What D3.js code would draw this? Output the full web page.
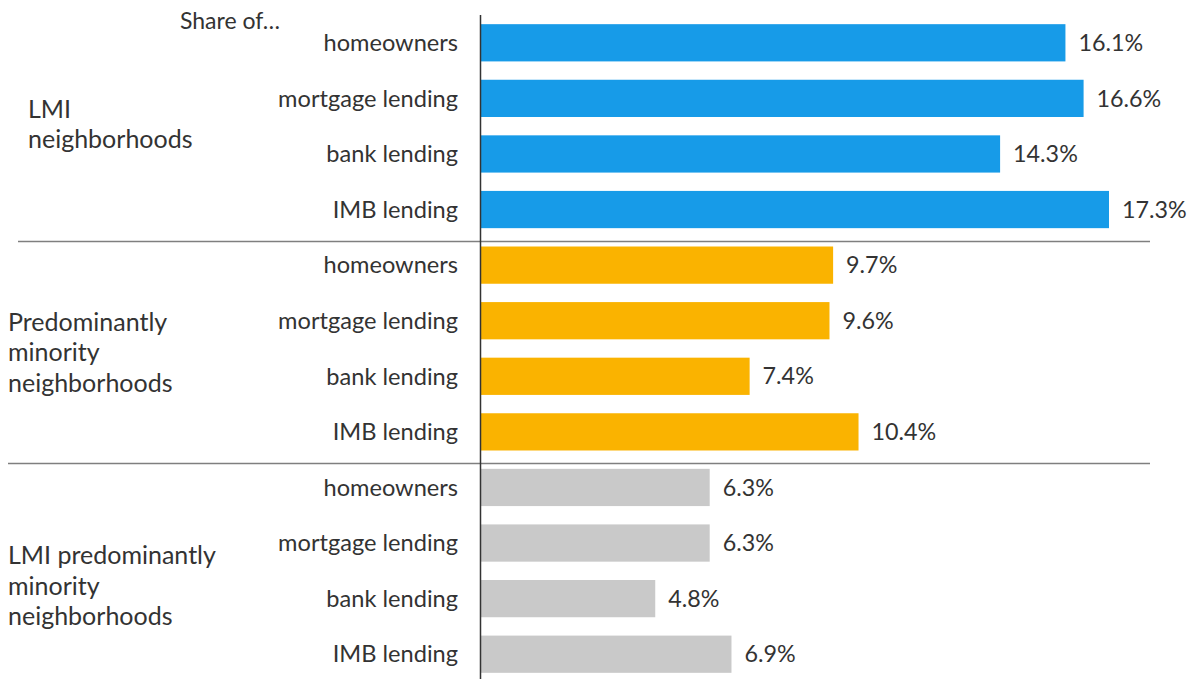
<!DOCTYPE html>
<html>
<head>
<meta charset="utf-8">
<script src="https://cdn.jsdelivr.net/npm/d3@7"></script>
<style>
  html, body { margin: 0; padding: 0; background: #fff; }
  svg text { font-family: Lato, "Noto Sans", sans-serif; fill: #333; }
</style>
</head>
<body>
<svg id="chart" width="1195" height="679"></svg>
<script>
// Rows within each neighborhood group
const measures = ["homeowners", "mortgage lending", "bank lending", "IMB lending"];
// Neighborhood groups (label lines)
const groups = [
  ["LMI", "neighborhoods"],
  ["Predominantly", "minority", "neighborhoods"],
  ["LMI predominantly", "minority", "neighborhoods"]
];
// Shares (%) for each group, in the order of `measures`
const lmiValues = [16.1, 16.6, 14.3, 17.3];
const minorityValues = [9.7, 9.6, 7.4, 10.4];
const lmiMinorityValues = [6.3, 6.3, 4.8, 6.9];
const groupColors = ["#179be8", "#fab300", "#c9c9c9"];

const seriesValues = [lmiValues, minorityValues, lmiMinorityValues];
const rows = [];
seriesValues.forEach((vals, g) => vals.forEach((v, i) => rows.push({
  g, i, idx: g * measures.length + i, label: measures[i], value: v
})));

const svg = d3.select("#chart");
const axisX = 480.5;

const y = d3.scaleBand()
  .domain(rows.map(d => d.idx))
  .range([15, 682])
  .paddingInner(0.33)
  .paddingOuter(0.165);

const x = d3.scaleLinear()
  .domain([0, 17.3])
  .range([481, 1109]);

// bars
svg.append("g").selectAll("rect")
  .data(rows)
  .join("rect")
  .attr("x", x(0))
  .attr("y", d => y(d.idx))
  .attr("width", d => x(d.value) - x(0))
  .attr("height", y.bandwidth())
  .attr("fill", d => groupColors[d.g]);

// value labels
svg.append("g").selectAll("text")
  .data(rows)
  .join("text")
  .attr("x", d => x(d.value) + 13)
  .attr("y", d => y(d.idx) + y.bandwidth() / 2)
  .attr("dy", "0.35em")
  .attr("font-size", 23.3)
  .text(d => d.value.toFixed(1) + "%");

// row labels
svg.append("g").selectAll("text")
  .data(rows)
  .join("text")
  .attr("x", 458)
  .attr("y", d => y(d.idx) + y.bandwidth() / 2)
  .attr("dy", "0.35em")
  .attr("text-anchor", "end")
  .attr("font-size", 23.6)
  .text(d => d.label);

// header
svg.append("text")
  .attr("x", 180)
  .attr("y", 29)
  .attr("font-size", 23)
  .text("Share of…");

// group separators
const sepStart = [18, 8];
[1, 2].forEach((g, k) => {
  const yy = Math.round(y(g * measures.length) - 6) + 0.5;
  svg.append("line")
    .attr("x1", sepStart[k]).attr("x2", 1150)
    .attr("y1", yy).attr("y2", yy)
    .attr("stroke", "#7f7f7f").attr("stroke-width", 1.3);
});

// group labels
const groupX = [28, 8, 8];
const groupShift = [-2, 4, 15];
const lineH = 30.5;
groups.forEach((lines, g) => {
  const first = y(g * measures.length);
  const last = y(g * measures.length + measures.length - 1) + y.bandwidth();
  const mid = (first + last) / 2 + groupShift[g];
  const t = svg.append("text")
    .attr("x", groupX[g])
    .attr("font-size", 25);
  lines.forEach((ln, j) => {
    t.append("tspan")
      .attr("x", groupX[g])
      .attr("y", mid + (j - (lines.length - 1) / 2) * lineH)
      .attr("dy", "0.35em")
      .text(ln);
  });
});

// axis line
svg.append("line")
  .attr("x1", axisX).attr("x2", axisX)
  .attr("y1", 15).attr("y2", 679)
  .attr("stroke", "#333").attr("stroke-width", 1.5);
</script>
</body>
</html>
